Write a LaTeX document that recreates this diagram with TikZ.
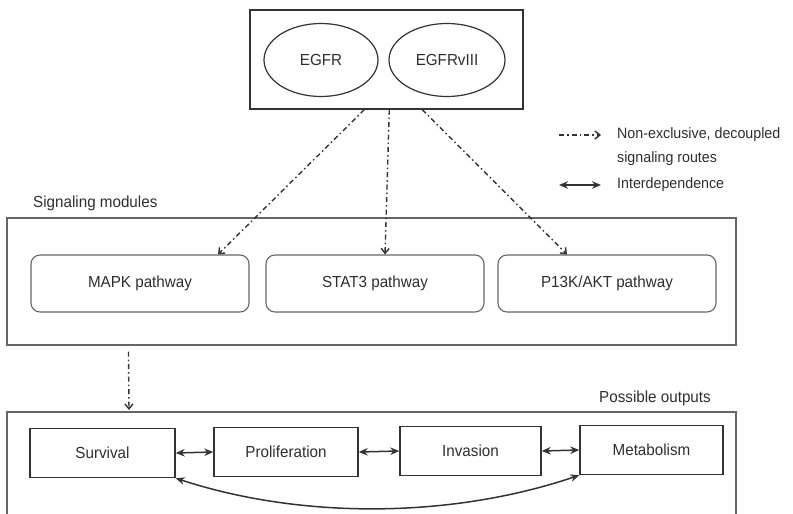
\documentclass[tikz,border=0pt]{standalone}
\usepackage{fontspec}
\setmainfont{Liberation Sans}[FakeStretch=0.95]
\usetikzlibrary{arrows.meta,calc,shapes.geometric}
\definecolor{ln}{HTML}{333333}
\definecolor{lnl}{HTML}{666666}
\definecolor{tx}{HTML}{2E2E2E}
\begin{document}
\begin{tikzpicture}[x=1pt,y=-1pt,
  every node/.style={font=\fontsize{16}{19}\selectfont, text=tx},
  outer/.style={draw=ln, line width=1.4pt},
  ell/.style={ellipse, draw=ln, line width=1.2pt, minimum width=114pt, minimum height=73pt, inner sep=0pt},
  module/.style={draw=lnl, line width=1.1pt},
  pbox/.style={draw=lnl, line width=1.1pt, rounded corners=9pt, minimum width=218pt, minimum height=57pt, inner sep=0pt},
  obox/.style={draw=ln, line width=1.4pt, minimum width=144pt, minimum height=49pt, inner sep=0pt},
  route/.style={draw=ln, line width=1.4pt, dash pattern=on 5pt off 3pt on 1.5pt off 3pt, -{Straight Barb[length=5pt,width=8pt]}},
  inter/.style={draw=ln, line width=1.5pt, {Stealth[length=9pt,width=7.5pt]}-{Stealth[length=9pt,width=7.5pt]}},
  lbl/.style={anchor=west, inner sep=0pt},
  leg/.style={lbl, font=\fontsize{15}{18}\selectfont}
]
\useasboundingbox (0,0) rectangle (793,514);

% top box
\node[outer, minimum width=273pt, minimum height=99pt, inner sep=0pt] (top) at (386.5,59.5) {};
\node[ell] (egfr) at (321,60) {EGFR};
\node[ell, minimum width=116pt] (egfrv) at (447,60) {EGFRvIII};

% legend
\coordinate (la1) at (559,135);
\coordinate (la2) at (601,135);
\draw[route] (la1) -- (la2);
\node[leg] (l1) at (617,135) {Non-exclusive, decoupled};
\node[leg] (l2) at (617,159) {signaling routes};
\coordinate (lb1) at (559,185);
\coordinate (lb2) at (601,185);
\draw[inter] (lb1) -- (lb2);
\node[leg] (l3) at (617,185) {Interdependence};

% signaling modules
\node[lbl] (smlab) at (33,203) {Signaling modules};
\node[module, minimum width=729pt, minimum height=127pt, inner sep=0pt] (mod) at (371.5,281.5) {};
\node[pbox] (mapk) at (140,283.5) {MAPK pathway};
\node[pbox] (stat) at (375,283.5) {STAT3 pathway};
\node[pbox] (pi3k) at (607,283.5) {P13K/AKT pathway};

\draw[route] ($(top.south west)+(115,0)$) -- ($(mapk.north)+(78,0)$);
\draw[route] ($(top.south west)+(140,0)$) -- ($(stat.north)+(10,0)$);
\draw[route] ($(top.south west)+(173,0)$) -- ($(pi3k.north)+(-40,0)$);

% outputs
\node[anchor=center, inner sep=0pt] (polab) at (655,398) {Possible outputs};
\coordinate (ob1) at (7,515);
\coordinate (ob2) at (7,412);
\coordinate (ob3) at (736,412);
\coordinate (ob4) at (736,515);
\draw[module] (ob1) -- (ob2) -- (ob3) -- (ob4);

\draw[route] ($(mod.south west)+(122,6)$) -- (129,410);

\node[obox, minimum width=145pt] (surv) at (102.5,453) {Survival};
\node[obox] (prol) at (286,452) {Proliferation};
\node[obox, minimum width=141pt] (inv) at (470.5,451) {Invasion};
\node[obox, minimum width=143pt] (met) at (651.5,450) {Metabolism};

\draw[inter] (surv.east) -- (prol.west);
\draw[inter] (prol.east) -- (inv.west);
\draw[inter] (inv.east) -- (met.west);
\draw[inter] (surv.south east) .. controls (300,519) and (450,519) .. (met.south west);
\end{tikzpicture}
\end{document}
